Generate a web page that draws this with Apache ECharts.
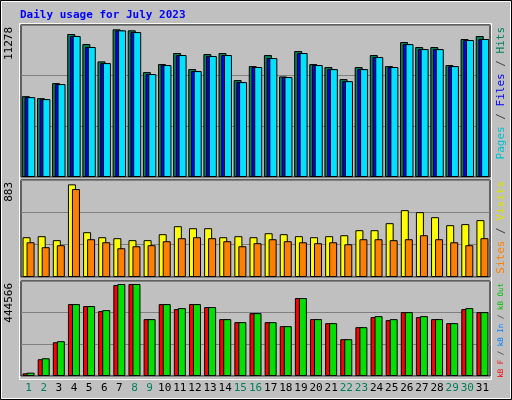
<!DOCTYPE html><html><head><meta charset="utf-8">
<script src="https://cdn.jsdelivr.net/npm/echarts@6/dist/echarts.min.js"></script>
<style>html,body{margin:0;padding:0;background:#C0C0C0}#c{width:512px;height:400px}</style></head><body><div id="c"></div>
<script>
const days=['1','2','3','4','5','6','7','8','9','10','11','12','13','14','15','16','17','18','19','20','21','22','23','24','25','26','27','28','29','30','31'];
const weekend=[1,2,8,9,15,16,22,23,29,30];
const hits=[6175,6022,7171,10922,10157,8830,11278,11203,8013,8626,9468,8243,9391,9468,7401,8473,9315,7682,9621,8626,8396,7477,8396,9315,8473,10310,9927,9927,8549,10540,10769];
const files=[6100,5950,7095,10770,9930,8700,11200,11070,7860,8550,9315,8090,9240,9315,7250,8400,9085,7630,9470,8550,8240,7320,8240,9160,8400,10150,9770,9770,8470,10460,10540];
const pages=[6100,5950,7095,10770,9930,8700,11200,11070,7860,8550,9315,8090,9240,9315,7250,8400,9085,7630,9470,8550,8240,7320,8240,9160,8400,10150,9770,9770,8470,10460,10540];
const visits=[379,389,351,883,427,379,370,351,351,408,484,465,465,379,389,379,417,408,389,379,389,398,446,446,513,637,618,570,494,504,542];
const sites=[331,284,303,838,360,331,274,293,303,341,370,379,370,341,293,322,360,341,331,322,331,312,360,360,351,360,398,360,331,303,370];
const kbOut=[16166,85680,168126,347569,337869,318469,444566,444566,274822,347569,328170,347569,333020,274822,260273,303920,260273,240873,376670,274822,255422,177826,236023,289371,274822,308770,289371,274822,255422,328170,308770];
const kbF=[13000,81000,163000,347569,337869,313600,439700,444566,274822,347569,323300,347569,333020,274822,260273,303920,260273,240873,376670,274822,255422,177826,236023,284500,270000,308770,284500,274822,255422,323300,308770];
const maxHits=11278, maxVisits=883, maxKB=444566;
const topMax=maxHits*455/442, midMax=maxVisits*290/277, botMax=maxKB*284/275;
const F='DejaVu Sans Mono';
const c=echarts.init(document.getElementById('c'));
const grids=[{left:21,right:22,top:25,height:152},{left:21,right:22,top:180,height:97},{left:21,right:22,top:281,height:95}];
const ax=(i,show)=>({type:'category',gridIndex:i,data:days,axisLine:{show:false},axisTick:{show:false},
 axisLabel:{show:show,interval:0,margin:7,fontFamily:F,fontSize:11,formatter:v=>weekend.includes(+v)?'{w|'+v+'}':'{d|'+v+'}',rich:{w:{color:'#00805C',fontFamily:F,fontSize:11},d:{color:'#000',fontFamily:F,fontSize:11}}}});
const ay=(i,m)=>({type:'value',gridIndex:i,min:0,max:m,interval:m/3,axisLabel:{show:false},axisLine:{show:false},axisTick:{show:false},splitLine:{lineStyle:{color:'#808080',width:1}}});
const bs=(name,data,col,i,w,gap)=>({type:'bar',name,data,xAxisIndex:i,yAxisIndex:i,barWidth:w,barGap:gap,itemStyle:{color:col,borderColor:'#000',borderWidth:1},silent:true,animation:false});
const vtext=(x,y,rich,text,fs)=>({type:'text',x:x,y:y,rotation:Math.PI/2,style:{text,rich,fontFamily:F,fontSize:fs,align:'right',verticalAlign:'middle'}});
const R=(fs,o)=>{const r={};for(const k in o)r[k]={fill:o[k],fontFamily:F,fontSize:fs};return r;};
c.setOption({backgroundColor:'#C0C0C0',animation:false,
 grid:grids.map(g=>Object.assign({show:true,borderColor:'#000',borderWidth:1,backgroundColor:'#C0C0C0'},g)),
 xAxis:[ax(0,false),ax(1,false),ax(2,true)],
 yAxis:[ay(0,topMax),ay(1,midMax),ay(2,botMax)],
 series:[bs('Hits',hits,'#00805C',0,8,'-66%'),bs('Files',files,'#0000FF',0,8,'-66%'),bs('Pages',pages,'#00E0FF',0,8,'-66%'),
  bs('Visits',visits,'#FFFF00',1,8,'-50%'),bs('Sites',sites,'#FF8000',1,8,'-50%'),
  bs('kB F',kbF,'#FF0000',2,8,'-50%'),bs('kB Out',kbOut,'#00E000',2,8,'-50%')],
 graphic:[
  {type:'rect',shape:{x:0.5,y:0.5,width:511,height:399},style:{fill:'none',stroke:'#000',lineWidth:1}},
  {type:'rect',shape:{x:1.5,y:1.5,width:509,height:397},style:{fill:'none',stroke:'#fff',lineWidth:1}},
  {type:'rect',shape:{x:19.5,y:23.5,width:472,height:356},style:{fill:'none',stroke:'#fff',lineWidth:1}},
  {type:'text',x:20,y:10,style:{text:'Daily usage for July 2023',fill:'#0000FF',fontFamily:F,fontSize:11,fontWeight:'bold'}},
  {type:'text',x:9,y:27,rotation:Math.PI/2,style:{text:'11278',fill:'#000',fontFamily:F,fontSize:11,align:'right',verticalAlign:'middle'}},
  {type:'text',x:9,y:182,rotation:Math.PI/2,style:{text:'883',fill:'#000',fontFamily:F,fontSize:11,align:'right',verticalAlign:'middle'}},
  {type:'text',x:9,y:283,rotation:Math.PI/2,style:{text:'444566',fill:'#000',fontFamily:F,fontSize:11,align:'right',verticalAlign:'middle'}},
  vtext(501,27,R(11,{p:'#00C0D0',f:'#0000FF',h:'#00805C',s:'#404040'}),'{p|Pages}{s| / }{f|Files}{s| / }{h|Hits}',11),
  vtext(501,181,R(11,{v:'#E0E000',t:'#FF8000',s:'#404040'}),'{t|Sites}{s| / }{v|Visits}',11),
  vtext(501,283,R(7.5,{a:'#FF0000',b:'#0080FF',g:'#00C000',s:'#404040'}),'{a|kB F}{s| / }{b|kB In}{s| / }{g|kB Out}',7.5)
 ]});
</script></body></html>
